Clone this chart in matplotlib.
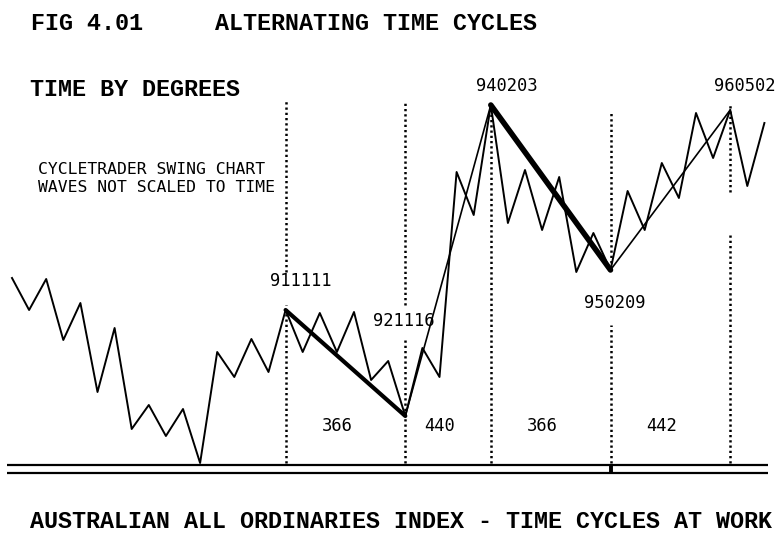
import matplotlib
matplotlib.use('Agg')
from matplotlib import pyplot as plt

# swing chart: one point per swing (waves not scaled to time), arbitrary index level
swing_level = [187, 155, 186, 125, 162, 73, 137, 36, 60, 29, 56, 2, 113, 88, 126, 93,
               155, 113, 152, 113, 153, 85, 104, 49, 117, 88, 293, 250, 360, 242, 295,
               235, 288, 193, 232, 195, 274, 235, 302, 267, 352, 307, 355, 279, 342]
swing_idx = list(range(len(swing_level)))

# major turning points
turn_dates = ['911111', '921116', '940203', '950209', '960502']
turn_idx = [16, 23, 28, 35, 42]
cycle_days = ['366', '440', '366', '442']

W, H = 780, 533
fig = plt.figure(figsize=(W / 100, H / 100), dpi=100)
ax = fig.add_axes([0, 0, 1, 1])
ax.set_xlim(-12 / 17.1, (W - 12) / 17.1)
ax.set_ylim(465 - H, 465)
ax.axis('off')

turn_level = [swing_level[i] for i in turn_idx]

# dotted time markers (gaps where the labels sit)
vsegs = [[(365, 193), (160, 2)],
         [(362, 160), (125, 2)],
         [(355, 2)],
         [(352, 197), (140, 2)],
         [(360, 273), (232, 2)]]
for x, segs in zip(turn_idx, vsegs):
    for top, bot in segs:
        ax.plot([x, x], [bot, top], color='black', lw=1.8, ls=(0, (0.9, 1.2)))

# base double line
ax.hlines([0, -8], -0.29, 44.2, color='black', lw=1.6)
ax.vlines(turn_idx[3], -8, 0, color='black', lw=2.8)

# swings
ax.plot(swing_idx, swing_level, color='black', lw=1.4)

# cycle lines between turning points
ax.plot(turn_idx[0:2], turn_level[0:2], color='black', lw=3, solid_capstyle='round')
ax.plot(turn_idx[1:3], turn_level[1:3], color='black', lw=1.2)
ax.plot(turn_idx[2:4], turn_level[2:4], color='black', lw=4, solid_capstyle='round')
ax.plot(turn_idx[3:5], turn_level[3:5], color='black', lw=1.2)

lab_font = dict(family='DejaVu Sans Mono', size=12.3, color='black')
offsets = [(15, 29), (-2, 95), (16, 19), (4, -33), (15, 24)]
for d, x, y, off in zip(turn_dates, turn_idx, turn_level, offsets):
    ax.annotate(d, xy=(x, y), xytext=off, textcoords='offset pixels',
                ha='center', va='center', **lab_font)

for i, c in enumerate(cycle_days):
    xm = (turn_idx[i] + turn_idx[i + 1]) / 2 - 0.5
    ax.text(xm, 39, c, ha='center', va='center', **lab_font)

title_font = dict(family='Liberation Mono', weight='bold', size=16.8, color='black')


def ftext(x, y, s, **kw):
    fig.text(x / W, 1 - y / H, s, ha='left', va='center', **kw)


ftext(31, 23, 'FIG 4.01', **title_font)
ftext(215, 23, 'ALTERNATING TIME CYCLES', **title_font)
ftext(30, 89, 'TIME BY DEGREES', **title_font)
ftext(30, 521, 'AUSTRALIAN ALL ORDINARIES INDEX - TIME CYCLES AT WORK', **title_font)

small_font = dict(family='DejaVu Sans Mono', size=11.8, color='black')
ftext(38, 170, 'CYCLETRADER SWING CHART', **small_font)
ftext(38, 188, 'WAVES NOT SCALED TO TIME', **small_font)

fig.savefig('out.png', dpi=100)
